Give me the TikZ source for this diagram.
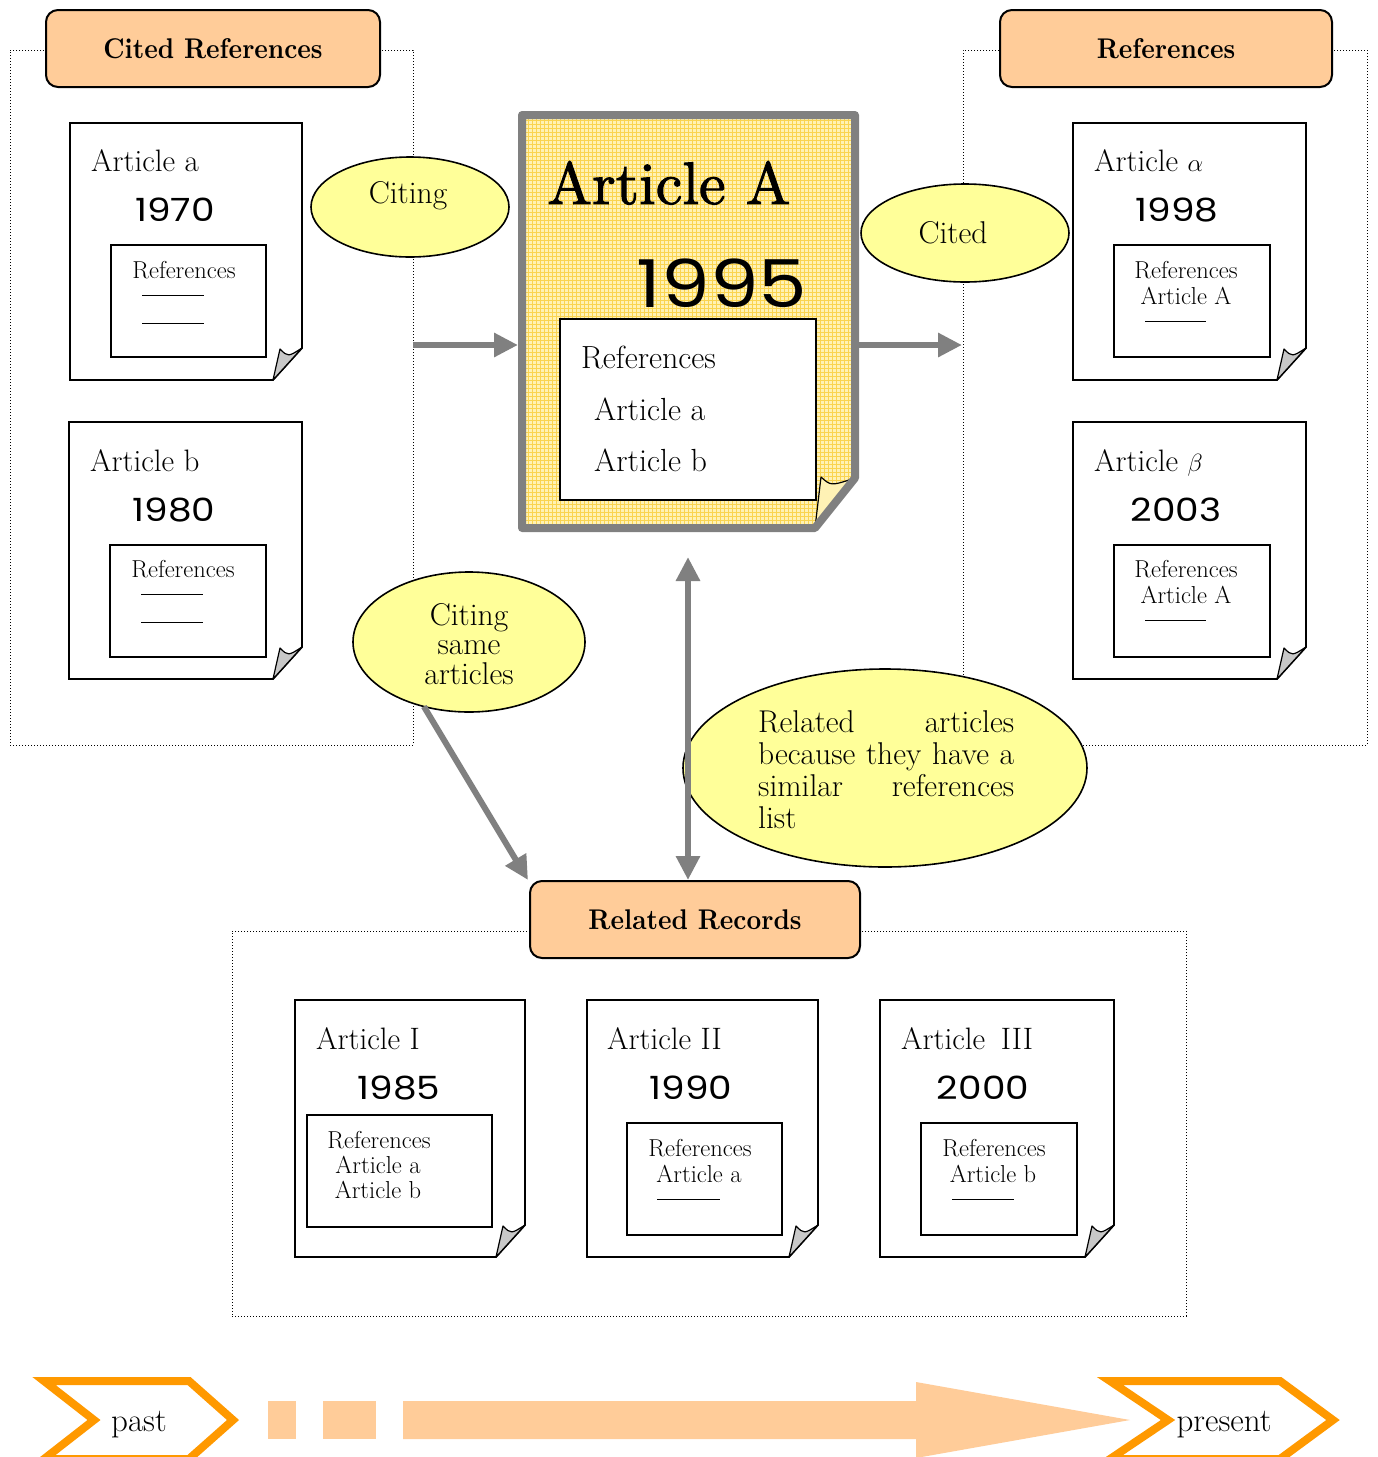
\documentclass[tikz,border=0pt]{standalone}
\usepackage{fontspec}
\newfontfamily\yearfont{Poppins}[FakeStretch=1.17]
\newfontfamily\heavyfont{lmroman10-regular.otf}[FakeBold=1.6]
\newfontfamily\headfont{lmroman10-bold.otf}[FakeStretch=0.9]
\usetikzlibrary{arrows.meta,shapes.geometric}
\definecolor{peach}{HTML}{FFCC99}
\definecolor{lemon}{HTML}{FFFF99}
\definecolor{arrgray}{HTML}{808080}
\definecolor{orng}{HTML}{FF9900}
\definecolor{flapgray}{HTML}{C8C8C8}
\definecolor{docyellow}{HTML}{FFF2B5}
\definecolor{gridgold}{HTML}{FAD450}
\tikzset{
  dotbox/.style={draw=black, dotted, line width=1pt, inner sep=0pt, outer sep=0pt},
  header/.style={draw=black, line width=2pt, fill=peach, rounded corners=12pt, inner sep=0pt, outer sep=0pt, font=\headfont\fontsize{28.5}{30}\selectfont},
  bubble/.style={ellipse, draw=black, line width=1.6pt, fill=lemon, inner sep=0pt, outer sep=0pt},
  inbox/.style={draw=black, line width=1.8pt, fill=white, inner sep=0pt, outer sep=0pt},
  ttl/.style={font=\fontsize{31}{34}\selectfont, inner sep=0pt, anchor=base west},
  yr/.style={font=\yearfont\fontsize{32}{36}\selectfont, inner sep=0pt, anchor=base},
  sm/.style={font=\fontsize{24.5}{26}\selectfont, inner sep=0pt, anchor=base},
  txt/.style={font=\fontsize{31.5}{29.5}\selectfont, inner sep=0pt},
  garrow/.style={draw=arrgray, line width=6pt, -{Triangle[length=24pt,width=23pt]}},
  chevron/.style={draw=orng, line width=8pt, fill=white, line join=miter},
  rulestroke/.style={line width=1pt},
  holder/.style={inner sep=0pt, outer sep=0pt, draw=none},
}
% #1 name, #2 cx, #3 cy, #4 w, #5 h
\newcommand\paperdoc[5]{%
  \node[holder, minimum width=#4pt, minimum height=#5pt] (#1) at (#2,#3) {};
  \draw[line width=1.8pt, fill=white, line join=miter] (#1.north west) -- (#1.north east) -- ([yshift=32pt]#1.south east) -- ([xshift=-29pt]#1.south east) -- (#1.south west) -- cycle;
  \draw[line width=1.2pt, fill=flapgray, line join=round] ([xshift=-29pt]#1.south east) -- ([xshift=-22pt,yshift=31pt]#1.south east) .. controls ([xshift=-14pt,yshift=23pt]#1.south east) .. ([yshift=32pt]#1.south east) -- cycle;
}
\begin{document}
\begin{tikzpicture}[x=1pt,y=-1pt]
\useasboundingbox (0,0) rectangle (1377,1457);
\fill[white] (0,0) rectangle (1377,1457);

% dotted group boxes
\node[dotbox, minimum width=403pt, minimum height=695pt] (lbox) at (211.5,397.5) {};
\node[dotbox, minimum width=404pt, minimum height=695pt] (rbox) at (1165,397.5) {};
\node[dotbox, minimum width=954pt, minimum height=385pt] (bbox) at (709,1123.5) {};

% headers
\node[header, minimum width=334pt, minimum height=77pt] (hcited) at (213,48.5) {Cited References};
\node[header, minimum width=332pt, minimum height=77pt] (hrefs) at (1166,48.5) {References};
\node[header, minimum width=330pt, minimum height=77pt] (hrel) at (695,919.5) {Related Records};

% ---- left column documents
\paperdoc{da}{186}{251.5}{232}{257}
\node[ttl] (da-t) at (91,171) {Article a};
\node[yr] (da-y) at (175,221.5) {1970};
\node[inbox, minimum width=155pt, minimum height=112pt] (da-r) at (188.5,301) {};
\node[sm] (da-rt) at (184,278.5) {References};
\draw[rulestroke] (142,295) -- (204,295) (142,323) -- (204,323);

\paperdoc{db}{185.5}{550.5}{233}{257}
\node[ttl] (db-t) at (90,471) {Article b};
\node[yr] (db-y) at (174,521) {1980};
\node[inbox, minimum width=156pt, minimum height=112pt] (db-r) at (188,601) {};
\node[sm] (db-rt) at (183,577.5) {References};
\draw[rulestroke] (141,594) -- (203,594) (141,622) -- (203,622);

% ---- right column documents
\paperdoc{dal}{1189.5}{251.5}{233}{257}
\node[ttl] (dal-t) at (1094,171) {Article $\alpha$};
\node[yr] (dal-y) at (1177,221) {1998};
\node[inbox, minimum width=156pt, minimum height=112pt] (dal-r) at (1192,301) {};
\node[sm] (dal-rt) at (1186,278) {References};
\node[sm] (dal-ra) at (1186,304) {Article A};
\draw[rulestroke] (1145,321) -- (1206,321);

\paperdoc{dbe}{1189.5}{550.5}{233}{257}
\node[ttl] (dbe-t) at (1094,471) {Article $\beta$};
\node[yr] (dbe-y) at (1176,521) {2003};
\node[inbox, minimum width=156pt, minimum height=112pt] (dbe-r) at (1192,601) {};
\node[sm] (dbe-rt) at (1186,577) {References};
\node[sm] (dbe-ra) at (1186,603) {Article A};
\draw[rulestroke] (1145,620) -- (1206,620);

% ---- bottom documents
\paperdoc{d1}{410}{1128.5}{230}{257}
\node[ttl] (d1-t) at (316,1049) {Article I};
\node[yr] (d1-y) at (399,1099) {1985};
\node[inbox, minimum width=185pt, minimum height=112pt] (d1-r) at (399.5,1171) {};
\node[sm] (d1-rt) at (379,1148) {References};
\node[sm] (d1-ra) at (378,1173) {Article a};
\node[sm] (d1-rb) at (378,1198) {Article b};

\paperdoc{d2}{702.5}{1128.5}{231}{257}
\node[ttl] (d2-t) at (607,1049) {Article II};
\node[yr] (d2-y) at (691,1099) {1990};
\node[inbox, minimum width=155pt, minimum height=112pt] (d2-r) at (704.5,1179) {};
\node[sm] (d2-rt) at (700,1156) {References};
\node[sm] (d2-ra) at (699,1182) {Article a};
\draw[rulestroke] (657,1199) -- (720,1199);

\paperdoc{d3}{997}{1128.5}{234}{257}
\node[ttl] (d3-t) at (901,1049) {Article\enspace III};
\node[yr] (d3-y) at (983,1099) {2000};
\node[inbox, minimum width=156pt, minimum height=112pt] (d3-r) at (999,1179) {};
\node[sm] (d3-rt) at (994,1156) {References};
\node[sm] (d3-ra) at (993,1182) {Article b};
\draw[rulestroke] (952,1199) -- (1014,1199);

% ---- central Article A
\node[holder, minimum width=333pt, minimum height=413pt] (dA) at (688.5,321.5) {};
\fill[docyellow] (dA.north west) -- (dA.north east) -- ([yshift=50pt]dA.south east) -- ([xshift=-40pt]dA.south east) -- (dA.south west) -- cycle;
\begin{scope}
  \clip (dA.north west) -- (dA.north east) -- ([yshift=50pt]dA.south east) -- ([xshift=-40pt]dA.south east) -- (dA.south west) -- cycle;
  \draw[gridgold, line width=0.5pt, step=4pt] (dA.south west) grid (dA.north east);
\end{scope}
\node[inbox, minimum width=256pt, minimum height=181pt] (dA-r) at (688,409.5) {};
\node[txt, font=\fontsize{32}{34}\selectfont, anchor=base west] (dA-rt) at (581,368) {References};
\node[txt, font=\fontsize{32}{34}\selectfont, anchor=base west] (dA-ra) at (594,420) {Article a};
\node[txt, font=\fontsize{32}{34}\selectfont, anchor=base west] (dA-rb) at (594,471) {Article b};
\draw[line width=1.2pt, fill=docyellow, line join=round] ([xshift=-40pt]dA.south east) -- ([xshift=-34pt,yshift=51pt]dA.south east) .. controls ([xshift=-24pt,yshift=42pt]dA.south east) .. ([yshift=50pt]dA.south east) -- cycle;
\draw[arrgray, line width=8pt, line join=round] (dA.north west) -- (dA.north east) -- ([yshift=50pt]dA.south east) -- ([xshift=-40pt]dA.south east) -- (dA.south west) -- cycle;
\node[inner sep=0pt, anchor=base west, font=\heavyfont\fontsize{60}{62}\selectfont] (dA-t) at (547,204) {Article A};
\node[inner sep=0pt, anchor=base, font=\yearfont\fontsize{66}{70}\selectfont] (dA-y) at (722,307) {1995};

% ---- bubbles
\node[bubble, minimum width=198pt, minimum height=100pt] (citing) at (410,207) {};
\node[txt, anchor=base] (citing-t) at (408,203) {Citing};
\node[bubble, minimum width=208pt, minimum height=98pt] (cited) at (965,233) {};
\node[txt, anchor=base] (cited-t) at (953,243) {Cited};
\node[bubble, minimum width=232pt, minimum height=140pt] (same) at (469,642) {};
\node[txt, align=center, anchor=base] (same-t) at (469,684) {Citing\\same\\articles};
\node[bubble, minimum width=404pt, minimum height=198pt] (rel) at (885,768) {};
\node[txt, font=\fontsize{31.5}{32}\selectfont, align=left, anchor=base west] (rel-t) at (758,828)
  {\hbox to 256pt{Related articles}\\\hbox to 256pt{because they have a}\\\hbox to 256pt{similar references}\\list};

% ---- connectors
\coordinate (aL1) at (413,345);
\coordinate (aL2) at (518,345);
\coordinate (aR1) at (859,345);
\coordinate (aR2) at (962,345);
\coordinate (vTop) at (688,557);
\coordinate (vBot) at (688,880);
\coordinate (dEnd) at (528,880);
\draw[garrow] (aL1) -- (aL2);
\draw[garrow] (aR1) -- (aR2);
\draw[garrow] (same.235) -- (dEnd);
\draw[garrow, {Triangle[length=24pt,width=23pt]}-{Triangle[length=24pt,width=23pt]}] (vTop) -- (vBot);

% ---- timeline
\fill[peach] (268,1401) rectangle (296,1439);
\fill[peach] (323,1401) rectangle (376,1439);
\fill[peach] (403,1401) -- (916,1401) -- (916,1382) -- (1130,1420) -- (916,1458) -- (916,1439) -- (403,1439) -- cycle;
\draw[chevron] (44,1381) -- (189,1381) -- (233,1420) -- (189,1459) -- (44,1459) -- (94,1420) -- cycle;
\draw[chevron] (1110,1381) -- (1280,1381) -- (1333,1420) -- (1280,1459) -- (1110,1459) -- (1168,1420) -- cycle;
\node[txt, font=\fontsize{33}{35}\selectfont, anchor=base] (past) at (139,1431) {past};
\node[txt, font=\fontsize{33}{35}\selectfont, anchor=base] (present) at (1224,1431) {present};
\end{tikzpicture}
\end{document}
